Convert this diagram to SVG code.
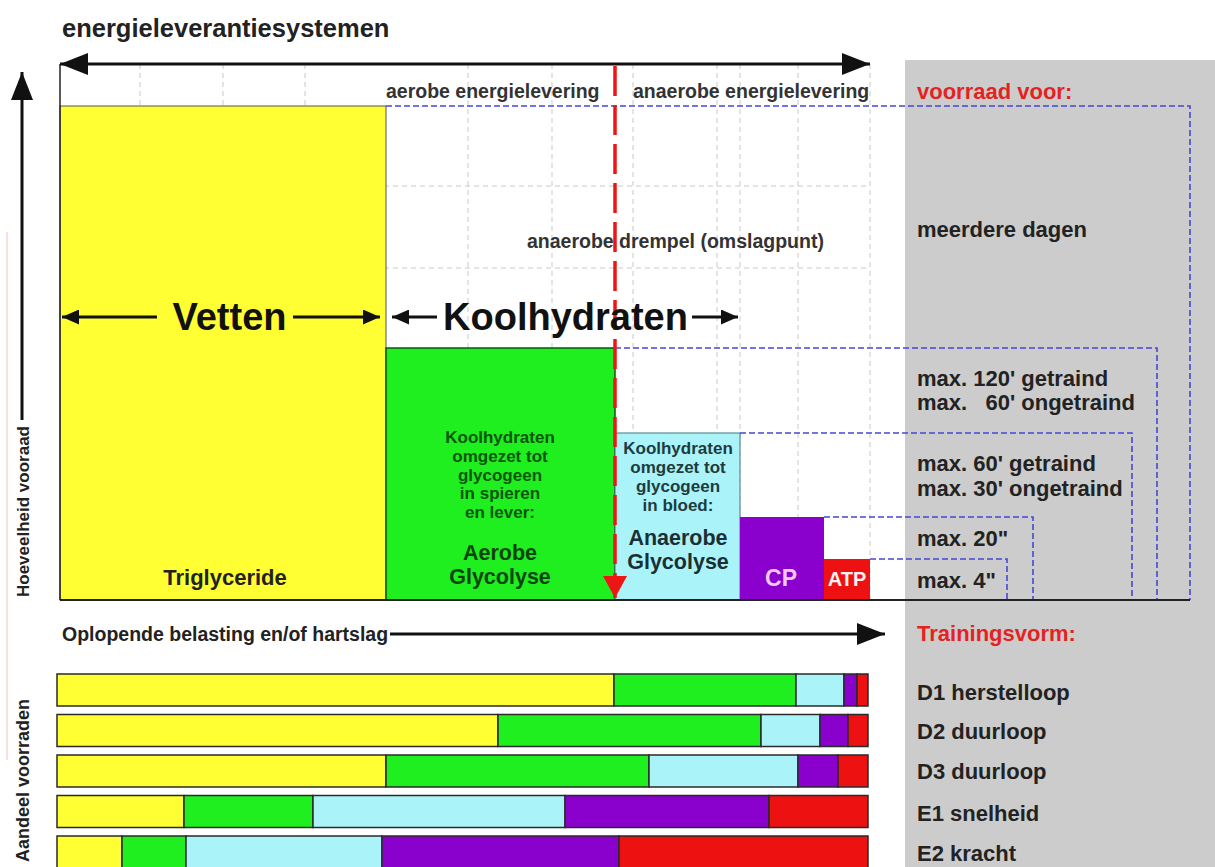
<svg xmlns="http://www.w3.org/2000/svg" width="1215" height="867" viewBox="0 0 1215 867">
<defs>
<style>
text{font-family:"Liberation Sans",Arial,sans-serif;font-weight:bold;fill:#222}
.top{font-size:19.5px;fill:#333}
.rl{font-size:22px;fill:#222}
.red{fill:#e52222}
.big{font-size:38px;text-anchor:middle;fill:#111}
.gs{font-size:17px;text-anchor:middle;fill:#0b560b}
.cs{font-size:17px;text-anchor:middle;fill:#1d3b40}
.gl{font-size:21.5px;text-anchor:middle}
.grid{stroke:#c9c9c9;stroke-width:1;stroke-dasharray:5 4;fill:none}
.blue{stroke:#4646d8;stroke-width:1.6;stroke-dasharray:6 3;fill:none}
.arr{stroke:#111;stroke-width:3;fill:none}
.bar rect{stroke:#2a2a2a;stroke-width:1.5}
.y{fill:#ffff33}.g{fill:#1fee1f}.c{fill:#aaf4f9}.p{fill:#8a00cc}.r{fill:#ee1111}
</style>
<marker id="ahBig" markerUnits="userSpaceOnUse" markerWidth="28" markerHeight="22" refX="28" refY="11" orient="auto-start-reverse"><path d="M0,0 L28,11 L0,22 z" fill="#111"/></marker>
<marker id="ahMid" markerUnits="userSpaceOnUse" markerWidth="17" markerHeight="15" refX="17" refY="7.5" orient="auto-start-reverse"><path d="M0,0 L17,7.5 L0,15 z" fill="#111"/></marker>
<marker id="ahRed" markerUnits="userSpaceOnUse" markerWidth="24" markerHeight="24" refX="22" refY="12" orient="auto"><path d="M0,0 L22,12 L0,24 z" fill="#ee1515"/></marker>
</defs>
<rect width="1215" height="867" fill="#fff"/>
<g id="panel"><rect x="905" y="60" width="310" height="807" fill="#cccccc"/></g>
<g id="grid">
<path class="grid" d="M140,64V106M223,64V106M305,64V106M468,64V600M552,64V600M633,64V600M717,64V600M740,64V600M798,64V600M870,64V600M60,186H870M60,268H870"/>
</g>
<line x1="7" y1="232" x2="7" y2="760" stroke="#f3c4b4" stroke-width="1"/>
<g id="vetten"><rect class="y" x="60" y="106" width="326" height="494" stroke="#555" stroke-width="1"/>
<text x="225" y="585" style="font-size:22px;text-anchor:middle">Triglyceride</text></g>
<g id="aerobe-glycolyse"><rect class="g" x="386" y="348" width="229" height="252" stroke="#0a5a0a" stroke-width="1.5"/>
<text class="gs" x="500" y="443">Koolhydraten</text>
<text class="gs" x="500" y="462">omgezet tot</text>
<text class="gs" x="500" y="481">glycogeen</text>
<text class="gs" x="500" y="499">in spieren</text>
<text class="gs" x="500" y="518">en lever:</text>
<text class="gl" x="500" y="560" style="fill:#0b450b">Aerobe</text>
<text class="gl" x="500" y="584" style="fill:#0b450b">Glycolyse</text></g>
<g id="anaerobe-glycolyse"><rect class="c" x="615" y="433" width="125" height="167" stroke="#3a7a80" stroke-width="1"/>
<text class="cs" x="678" y="454">Koolhydraten</text>
<text class="cs" x="678" y="473">omgezet tot</text>
<text class="cs" x="678" y="492">glycogeen</text>
<text class="cs" x="678" y="511">in bloed:</text>
<text class="gl" x="678" y="545" style="fill:#1a2f33">Anaerobe</text>
<text class="gl" x="678" y="569" style="fill:#1a2f33">Glycolyse</text></g>
<g id="cp"><rect class="p" x="740" y="517" width="84" height="83"/>
<text x="781" y="586" style="font-size:23px;text-anchor:middle;fill:#f6c8f6">CP</text></g>
<g id="atp"><rect class="r" x="824" y="559" width="46" height="41"/>
<text x="847" y="586" style="font-size:20px;text-anchor:middle;fill:#fff2f2">ATP</text></g>
<g id="connectors">
<path class="blue" d="M386,106H1190V600M615,348H1157V600M740,433H1132V600M824,517H1033V600M870,559H1007V600"/>
<line x1="60" y1="64" x2="60" y2="600" stroke="#222" stroke-width="1.5"/>
<line x1="60" y1="600" x2="1190" y2="600" stroke="#222" stroke-width="2"/>
<line class="arr" x1="60" y1="64" x2="870" y2="64" marker-start="url(#ahBig)" marker-end="url(#ahBig)"/>
<line class="arr" x1="22" y1="420" x2="22" y2="72" marker-end="url(#ahBig)"/>
<line x1="615" y1="66" x2="615" y2="598" stroke="#ee1515" stroke-width="3.5" stroke-dasharray="30 9" marker-end="url(#ahRed)"/>
<line class="arr" x1="157" y1="317" x2="62" y2="317" marker-end="url(#ahMid)"/>
<line class="arr" x1="293" y1="317" x2="380" y2="317" marker-end="url(#ahMid)"/>
<line class="arr" x1="437" y1="317" x2="392" y2="317" marker-end="url(#ahMid)"/>
<line class="arr" x1="692" y1="317" x2="738" y2="317" marker-end="url(#ahMid)"/>
<line class="arr" x1="390" y1="634" x2="885" y2="634" marker-end="url(#ahBig)"/>
</g>
<g id="labels">
<text x="62" y="37" style="font-size:25.5px">energieleverantiesystemen</text>
<text class="top" x="386" y="98">aerobe energielevering</text>
<text class="top" x="633" y="98">anaerobe energielevering</text>
<text class="rl red" x="917" y="99">voorraad voor:</text>
<text class="top" x="527" y="248">anaerobe drempel (omslagpunt)</text>
<text class="big" x="229.5" y="330">Vetten</text>
<text class="big" x="565.5" y="330">Koolhydraten</text>
<text class="rl" x="917" y="237">meerdere dagen</text>
<text class="rl" x="917" y="386">max. 120' getraind</text>
<text class="rl" x="917" y="410" style="white-space:pre">max.   60' ongetraind</text>
<text class="rl" x="917" y="471">max. 60' getraind</text>
<text class="rl" x="917" y="496">max. 30' ongetraind</text>
<text class="rl" x="917" y="546">max. 20"</text>
<text class="rl" x="917" y="588">max. 4"</text>
<text x="62" y="641" style="font-size:19.5px;fill:#222">Oplopende belasting en/of hartslag</text>
<text class="rl red" x="917" y="641">Trainingsvorm:</text>
<text transform="translate(29,597) rotate(-90)" style="font-size:17px">Hoeveelheid vooraad</text>
<text transform="translate(29,862) rotate(-90)" style="font-size:18px">Aandeel voorraden</text>
</g>
<g id="bar-d1" class="bar"><rect class="y" x="57" y="674" width="557" height="32"/><rect class="g" x="614" y="674" width="182" height="32"/><rect class="c" x="796" y="674" width="48" height="32"/><rect class="p" x="844" y="674" width="13" height="32"/><rect class="r" x="857" y="674" width="11" height="32"/>
<text class="rl" x="917" y="700">D1 herstelloop</text></g>
<g id="bar-d2" class="bar"><rect class="y" x="57" y="714.5" width="441" height="32"/><rect class="g" x="498" y="714.5" width="263" height="32"/><rect class="c" x="761" y="714.5" width="59" height="32"/><rect class="p" x="820" y="714.5" width="28" height="32"/><rect class="r" x="848" y="714.5" width="20" height="32"/>
<text class="rl" x="917" y="739">D2 duurloop</text></g>
<g id="bar-d3" class="bar"><rect class="y" x="57" y="755" width="329" height="32"/><rect class="g" x="386" y="755" width="263" height="32"/><rect class="c" x="649" y="755" width="149" height="32"/><rect class="p" x="798" y="755" width="40" height="32"/><rect class="r" x="838" y="755" width="30" height="32"/>
<text class="rl" x="917" y="779">D3 duurloop</text></g>
<g id="bar-e1" class="bar"><rect class="y" x="57" y="795.5" width="127" height="32"/><rect class="g" x="184" y="795.5" width="129" height="32"/><rect class="c" x="313" y="795.5" width="252" height="32"/><rect class="p" x="565" y="795.5" width="204" height="32"/><rect class="r" x="769" y="795.5" width="99" height="32"/>
<text class="rl" x="917" y="821">E1 snelheid</text></g>
<g id="bar-e2" class="bar"><rect class="y" x="57" y="836" width="65" height="32"/><rect class="g" x="122" y="836" width="64" height="32"/><rect class="c" x="186" y="836" width="196" height="32"/><rect class="p" x="382" y="836" width="237" height="32"/><rect class="r" x="619" y="836" width="249" height="32"/>
<text class="rl" x="917" y="861">E2 kracht</text></g>
</svg>
